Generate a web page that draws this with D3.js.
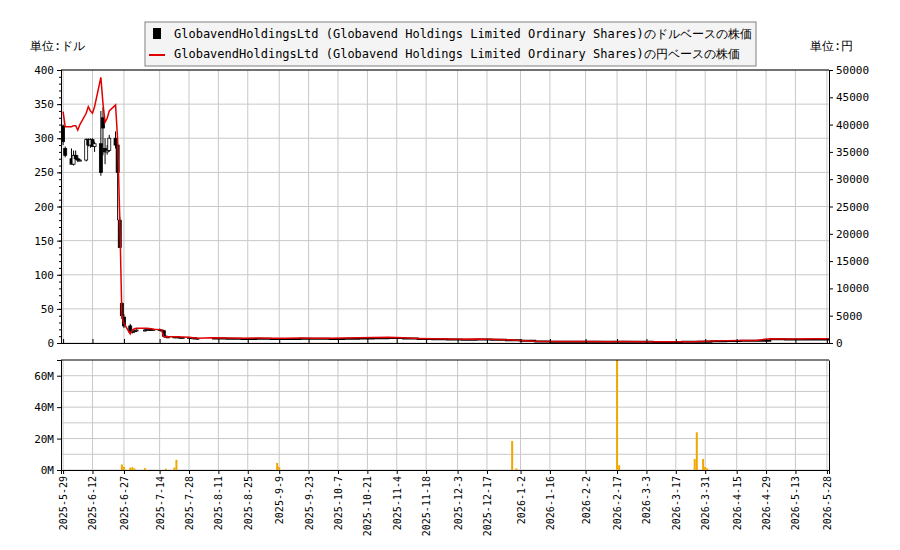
<!DOCTYPE html>
<html><head><meta charset="utf-8">
<script src="https://cdn.jsdelivr.net/npm/d3@7"></script>
<style>body{margin:0;background:#fff}text{font-family:"DejaVu Sans Mono",monospace}</style>
</head><body><div id="chart"></div>
<script>
const width = 900, height = 550;

// early daily candles (USD)
const candleDates = ["2025-05-29","2025-05-30","2025-06-02","2025-06-03","2025-06-04","2025-06-05","2025-06-06","2025-06-09","2025-06-10","2025-06-11","2025-06-12","2025-06-13","2025-06-16","2025-06-17","2025-06-18","2025-06-19","2025-06-20","2025-06-23","2025-06-24","2025-06-25","2025-06-26","2025-06-27","2025-06-30","2025-07-01","2025-07-02","2025-07-03","2025-07-07","2025-07-08","2025-07-09","2025-07-10","2025-07-11","2025-07-14","2025-07-15","2025-07-16","2025-07-17","2025-07-18","2025-07-21","2025-07-22","2025-07-23","2025-07-24","2025-07-25","2025-07-28","2025-07-29","2025-07-30","2025-07-31","2025-08-01"];
const candleOpen  = [318,285,270,262,275,270,268,268,298,290,298,288,292,330,285,280,282,300,290,180,58,38,25,16,17,18,19,19,20,20,19,20,19,18,10,9,9,9,9,8,8,8,8,7.5,7.5,7];
const candleHigh  = [320,288,285,282,282,275,270,300,300,300,300,295,340,345,300,290,305,310,292,185,60,42,28,18,19,20,21,21,21,21,21,21,20,19,11,10,10,10,9.5,9,9,9,8.5,8,8,7.5];
const candleLow   = [290,272,262,260,268,265,266,266,288,286,288,280,245,275,262,276,280,285,180,140,35,22,14,14,15,16,17,18,18,18,18,18,17,9,8,8,8,8,7.5,7.5,7.5,7.5,7,7,7,6.5];
const candleClose = [295,275,262,275,270,268,268,298,290,298,288,292,250,315,280,282,300,290,250,140,40,25,16,17,18,19,19,20,20,19,20,19,18,10,9,9,9,9,8,8,8,8,7.5,7.5,7,6.5];
// early daily yen closes
const candleYen = [42360,39600,39600,39800,39800,39000,40000,42070,43280,42500,42070,43280,48660,43900,40420,41150,42500,43590,37180,23000,5000,3600,1650,2380,2600,2690,2690,2700,2650,2600,2500,2450,2380,1150,1150,1150,1150,1150,1150,1100,1100,1050,1000,950,900,860];

// later weekly closes (USD)
const weekDates  = ["2025-08-08","2025-08-15","2025-08-22","2025-08-29","2025-09-05","2025-09-12","2025-09-19","2025-09-26","2025-10-03","2025-10-10","2025-10-17","2025-10-24","2025-10-31","2025-11-07","2025-11-14","2025-11-21","2025-11-28","2025-12-05","2025-12-12","2025-12-19","2025-12-26","2026-01-02","2026-01-09","2026-01-16","2026-01-23","2026-01-30","2026-02-06","2026-02-13","2026-02-20","2026-02-27","2026-03-06","2026-03-13","2026-03-20","2026-03-27","2026-04-03","2026-04-10","2026-04-17","2026-04-24","2026-05-01","2026-05-08","2026-05-15","2026-05-22","2026-05-29"];
const weekClose  = [6.5,6.2,6,6.3,6,6,6.2,6.1,6,6.2,6.5,7,7.2,6.5,5.8,5.5,5,4.8,5,4.6,4.2,3.2,2.2,2,1.9,1.8,1.8,1.7,1.8,1.7,1.6,1.6,1.7,1.8,2.5,3,3.2,3.3,5.5,5,5.2,5.3,5.4];
const usdJpy = 145;

// volume (shares)
const volDates = ["2025-06-26","2025-06-27","2025-06-30","2025-07-01","2025-07-02","2025-07-07","2025-07-17","2025-07-21","2025-07-22","2025-09-08","2025-09-09","2025-12-29","2025-12-31","2026-02-17","2026-02-18","2026-03-26","2026-03-27","2026-03-30","2026-03-31","2026-04-01"];
const volValues = [3.5e6,2.0e6,1.5e6,1.8e6,1.0e6,1.2e6,0.8e6,1.5e6,6.5e6,4.5e6,2.0e6,18.5e6,1.0e6,70e6,3.0e6,7.0e6,24e6,7.0e6,2.0e6,1.0e6];

const tickLabels = ["2025-05-29","2025-06-12","2025-06-27","2025-07-14","2025-07-28","2025-08-11","2025-08-25","2025-09-09","2025-09-23","2025-10-07","2025-10-21","2025-11-04","2025-11-18","2025-12-03","2025-12-17","2026-01-02","2026-01-16","2026-02-02","2026-02-17","2026-03-03","2026-03-17","2026-03-31","2026-04-15","2026-04-29","2026-05-13","2026-05-28"];

const parse = d3.timeParse("%Y-%m-%d");
const candles = candleDates.map((d, i) => ({date: parse(d), o: candleOpen[i], h: candleHigh[i], l: candleLow[i], c: candleClose[i]}));
const weekly = weekDates.map((d, i) => ({date: parse(d), c: weekClose[i]}));
const yenLine = candleDates.map((d, i) => ({date: parse(d), v: candleYen[i]}))
  .concat(weekly.map(d => ({date: d.date, v: d.c * usdJpy})));
const vols = volDates.map((d, i) => ({date: parse(d), v: volValues[i]}));

const svg = d3.select("#chart").append("svg").attr("width", width).attr("height", height);
const left = 61, right = 829, top1 = 70, bot1 = 343, top2 = 360, bot2 = 470;

const x = d3.scaleTime().domain([parse("2025-05-28"), parse("2026-05-29")]).range([left, right]);
const y = d3.scaleLinear().domain([0, 400]).range([bot1, top1]);
const yR = d3.scaleLinear().domain([0, 50000]).range([bot1, top1]);
const yV = d3.scaleLinear().domain([0, 70e6]).range([bot2, top2]);

const tickDates = tickLabels.map(parse);
const fmt = d3.timeFormat("%Y-%-m-%-d");

function frame(y0, y1) {
  const g = svg.append("g");
  g.selectAll("line.v").data(tickDates).join("line")
    .attr("x1", d => x(d)).attr("x2", d => x(d)).attr("y1", y0).attr("y2", y1)
    .attr("stroke", "#c8c8c8");
  return g;
}
const g1 = frame(top1, bot1);
g1.selectAll("line.h").data(d3.range(0, 401, 50)).join("line")
  .attr("x1", left).attr("x2", right).attr("y1", d => y(d)).attr("y2", d => y(d)).attr("stroke", "#c8c8c8");
const g2 = frame(top2, bot2);
g2.selectAll("line.h").data(d3.range(0, 70e6, 10e6)).join("line")
  .attr("x1", left).attr("x2", right).attr("y1", d => yV(d)).attr("y2", d => yV(d)).attr("stroke", "#c8c8c8");

// candles
const cw = 3;
svg.append("g").selectAll("line").data(candles).join("line")
  .attr("x1", d => x(d.date)).attr("x2", d => x(d.date))
  .attr("y1", d => y(d.h)).attr("y2", d => y(d.l)).attr("stroke", "#000");
svg.append("g").selectAll("rect").data(candles).join("rect")
  .attr("x", d => x(d.date) - cw / 2).attr("width", cw)
  .attr("y", d => y(Math.max(d.o, d.c)))
  .attr("height", d => Math.max(1, Math.abs(y(d.o) - y(d.c))))
  .attr("fill", d => d.c < d.o ? "#000" : "#fff").attr("stroke", "#000").attr("stroke-width", 0.8);
svg.append("path").datum(weekly)
  .attr("d", d3.line().x(d => x(d.date)).y(d => y(d.c)).curve(d3.curveStepAfter))
  .attr("fill", "none").attr("stroke", "#000").attr("stroke-width", 2);

// yen line
svg.append("path").datum(yenLine)
  .attr("d", d3.line().x(d => x(d.date)).y(d => yR(d.v)))
  .attr("fill", "none").attr("stroke", "#e00000").attr("stroke-width", 1.5);

// volume
svg.append("g").selectAll("rect").data(vols).join("rect")
  .attr("x", d => x(d.date) - 1).attr("width", 2)
  .attr("y", d => yV(d.v)).attr("height", d => bot2 - yV(d.v)).attr("fill", "#f0a800");

// axes
svg.append("g").attr("transform", `translate(${left},0)`)
  .call(d3.axisLeft(y).tickValues(d3.range(0, 401, 50)).tickSize(4));
svg.append("g").attr("transform", `translate(${left},0)`)
  .call(d3.axisLeft(y).tickValues(d3.range(0, 401, 10)).tickSize(2).tickFormat(""));
svg.append("g").attr("transform", `translate(${right},0)`)
  .call(d3.axisRight(yR).tickValues(d3.range(0, 50001, 5000)).tickSize(4).tickFormat(d3.format("d")));
svg.append("g").attr("transform", `translate(0,${bot1})`)
  .call(d3.axisBottom(x).tickValues(tickDates).tickSize(-4).tickFormat(""));
svg.append("g").attr("transform", `translate(${left},0)`)
  .call(d3.axisLeft(yV).tickValues([0, 20e6, 40e6, 60e6]).tickSize(4).tickFormat(d => d / 1e6 + "M"));
svg.append("g").attr("transform", `translate(${right},0)`)
  .call(d3.axisRight(yV).tickValues([]).tickSize(0));
svg.append("line").attr("x1", left).attr("x2", right).attr("y1", top1).attr("y2", top1).attr("stroke", "#000");
svg.append("line").attr("x1", left).attr("x2", right).attr("y1", top2).attr("y2", top2).attr("stroke", "#000");
const axB = svg.append("g").attr("transform", `translate(0,${bot2})`)
  .call(d3.axisBottom(x).tickValues(tickDates).tickSize(4).tickFormat(fmt));
svg.selectAll(".tick text").style("font-size", "11px").attr("fill", "#000");
axB.selectAll("text").attr("transform", "rotate(-90)").attr("text-anchor", "end")
  .attr("x", -6).attr("y", 0).attr("dy", "0.35em").style("font-size", "10px");
svg.selectAll(".domain").attr("stroke", "#000");

svg.append("text").attr("x", 30).attr("y", 50).style("font-size", "12px").text("単位:ドル");
svg.append("text").attr("x", 810).attr("y", 50).style("font-size", "12px").text("単位:円");

// legend
const lg = svg.append("g");
lg.append("rect").attr("x", 145).attr("y", 22).attr("width", 611).attr("height", 44)
  .attr("fill", "#f4f4f4").attr("stroke", "#808080");
lg.append("rect").attr("x", 153).attr("y", 28).attr("width", 8).attr("height", 11).attr("fill", "#000");
lg.append("line").attr("x1", 149).attr("x2", 165).attr("y1", 55).attr("y2", 55).attr("stroke", "#e00000").attr("stroke-width", 2);
const name = "GlobavendHoldingsLtd (Globavend Holdings Limited Ordinary Shares)";
lg.append("text").attr("x", 174).attr("y", 38).style("font-size", "12px").text(name + "のドルベースの株価");
lg.append("text").attr("x", 174).attr("y", 58).style("font-size", "12px").text(name + "の円ベースの株価");
</script></body></html>
